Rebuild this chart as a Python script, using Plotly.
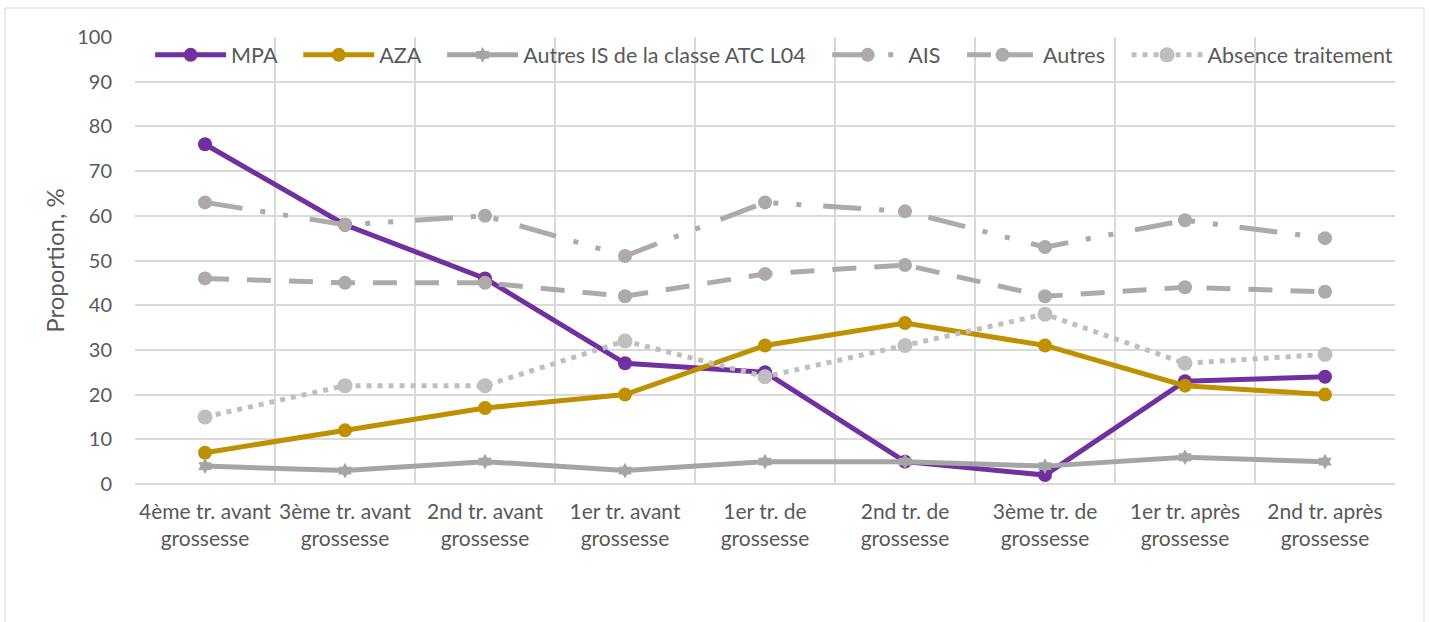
import plotly.graph_objects as go

categories = ["4ème tr. avant<br>grossesse", "3ème tr. avant<br>grossesse", "2nd tr. avant<br>grossesse",
              "1er tr. avant<br>grossesse", "1er tr. de<br>grossesse", "2nd tr. de<br>grossesse",
              "3ème tr. de<br>grossesse", "1er tr. après<br>grossesse", "2nd tr. après<br>grossesse"]
mpa = [76, 58, 46, 27, 25, 5, 2, 23, 24]
aza = [7, 12, 17, 20, 31, 36, 31, 22, 20]
autres_is = [4, 3, 5, 3, 5, 5, 4, 6, 5]
ais = [63, 58, 60, 51, 63, 61, 53, 59, 55]
autres = [46, 45, 45, 42, 47, 49, 42, 44, 43]
absence = [15, 22, 22, 32, 24, 31, 38, 27, 29]
y_ticks = list(range(0, 101, 10))

xpos = list(range(len(categories)))

series = [
    ("MPA", mpa, "#7030A0", "solid", "circle", 14),
    ("AZA", aza, "#BF9000", "solid", "circle", 14),
    ("Autres IS de la classe ATC L04", autres_is, "#A5A5A5", "solid", "hexagram", 12),
    ("AIS", ais, "#AEAAAA", "38px,18px,5px,18px,5px,22px", "circle", 14),
    ("Autres", autres, "#AEAAAA", "24px,18px", "circle", 14),
    ("Absence traitement", absence, "#BFBFBF", "5px,6px", "circle", 15),
]

pad = "\u00a0" * 3  # legend spacing only

fig = go.Figure()
for i, (name, vals, color, dash, sym, size) in enumerate(series):
    label = name + (pad if i < len(series) - 1 else "")
    fig.add_trace(go.Scatter(
        x=xpos, y=vals, name=label, mode="lines+markers",
        line=dict(color=color, width=5, dash=dash),
        marker=dict(color=color, size=size, symbol=sym, line=dict(width=0)),
        hovertemplate=name + ": %{y}<extra></extra>",
    ))

font_family = "Lato, 'Open Sans', sans-serif"
fig.update_layout(
    width=1429, height=622,
    margin=dict(l=135, r=34, t=37, b=138),
    paper_bgcolor="white", plot_bgcolor="white",
    font=dict(family=font_family, size=21, color="#595959"),
    showlegend=True,
    legend=dict(orientation="h", x=0.012, y=0.96, xanchor="left", yanchor="middle",
                bgcolor="rgba(0,0,0,0)", font=dict(size=21.5, color="#595959"),
                itemwidth=71, tracegroupgap=0),
    xaxis=dict(
        range=[-0.5, len(categories) - 0.5],
        tickmode="array", tickvals=xpos, ticktext=categories,
        showgrid=False, zeroline=False, showline=False, ticks="",
        ticklabelstandoff=13,
        tickfont=dict(size=21, color="#595959"),
        minor=dict(tickmode="array", tickvals=[i - 0.5 for i in range(len(categories) + 1)],
                   showgrid=True, gridcolor="#D9D9D9", gridwidth=1.5, ticks=""),
    ),
    yaxis=dict(
        range=[0, 100], tickmode="array", tickvals=y_ticks,
        showgrid=True, gridcolor="#D9D9D9", gridwidth=1.5,
        zeroline=True, zerolinecolor="#D9D9D9", zerolinewidth=1.5,
        showline=False, ticks="", ticklabelstandoff=22,
        tickfont=dict(size=20, color="#595959"),
        title=dict(text="Proportion, %", font=dict(size=24, color="#595959"), standoff=5),
    ),
    shapes=[dict(type="rect", xref="paper", yref="paper",
                 x0=(5 - 135) / 1260, x1=(1424 - 135) / 1260,
                 y0=(484 - 640) / 447, y1=(484 - 8) / 447,
                 line=dict(color="#D9D9D9", width=1), fillcolor="rgba(0,0,0,0)", layer="below")],
)

fig.write_html("out.html", config={"displayModeBar": False},
               post_script="document.body.style.margin='0';")
